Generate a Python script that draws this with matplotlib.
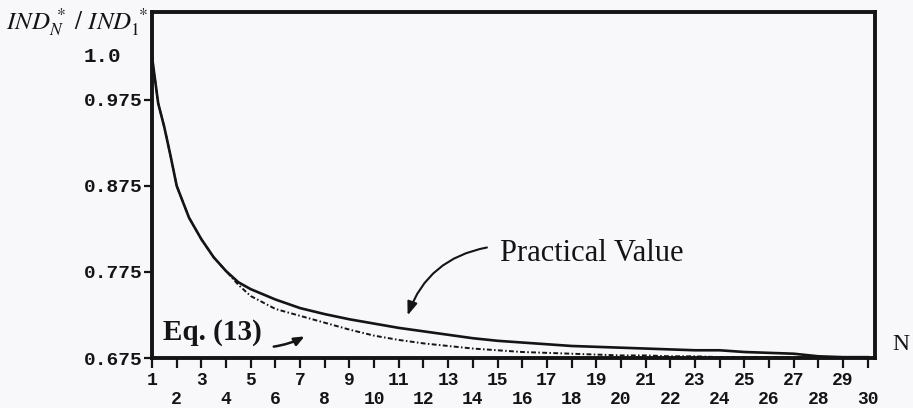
import numpy as np
import matplotlib
matplotlib.use("Agg")
import matplotlib.pyplot as plt

# number of units N (finer steps where the curve drops fast)
n_values = [1, 1.25, 1.5, 1.75, 2, 2.5, 3, 3.5, 4, 4.5, 5, 6, 7, 8, 9, 10,
            11, 12, 13, 14, 15, 16, 17, 18, 19, 20,
            21, 22, 23, 24, 25, 26, 27, 28, 29, 30]

# IND*_N / IND*_1, measured
practical = [1.000, 0.971, 0.943, 0.910, 0.875, 0.838, 0.813, 0.792, 0.776, 0.763,
             0.755, 0.743, 0.733, 0.726, 0.720, 0.715,
             0.710, 0.706, 0.702, 0.698, 0.695, 0.693, 0.691, 0.689, 0.688, 0.687,
             0.686, 0.685, 0.684, 0.684, 0.682, 0.681, 0.680, 0.677, 0.676, 0.676]

# IND*_N / IND*_1 from Eq. (13)
eq13 = [1.000, 0.971, 0.943, 0.910, 0.875, 0.838, 0.813, 0.792, 0.776, 0.760,
        0.747, 0.732, 0.724, 0.716, 0.708, 0.701,
        0.696, 0.692, 0.689, 0.686, 0.684, 0.682, 0.681, 0.680, 0.679, 0.678,
        0.678, 0.677, 0.677, 0.676, 0.676, 0.676, 0.676, 0.676, 0.676, 0.676]

y_ticks = [0.675, 0.775, 0.875, 0.975]
y_tick_labels = ["0.675", "0.775", "0.875", "0.975"]
x_odd = list(range(1, 31, 2))
x_even = list(range(2, 31, 2))

ink = "#141414"
paper = "#f8f8fb"
mono = "Liberation Mono"
serif = "Liberation Serif"

plt.rcParams["mathtext.fontset"] = "stix"


# the axis is stretched above 0.975 so the top value reads clearly
def fwd(y):
    y = np.asarray(y, dtype=float)
    return np.where(y > 0.975, 0.975 + 2.0 * (y - 0.975), y)


def inv(t):
    t = np.asarray(t, dtype=float)
    return np.where(t > 0.975, 0.975 + (t - 0.975) / 2.0, t)


fig = plt.figure(figsize=(9.13, 4.08), dpi=100, facecolor=paper)
ax = fig.add_axes([0.1665, 0.1225, 0.7915, 0.848])
ax.set_facecolor(paper)

ax.plot(n_values, eq13, color=ink, lw=1.4, linestyle=(0, (2.5, 1.2, 0.8, 1.2)))
ax.plot(n_values, practical, color=ink, lw=1.9, solid_joinstyle="round")

ax.set_yscale("function", functions=(fwd, inv))
ax.set_xlim(1, 30.28)
ax.set_ylim(0.675, 1.026)

for s in ax.spines.values():
    s.set_linewidth(2.8)
    s.set_color(ink)

ax.set_yticks(y_ticks)
ax.set_yticklabels(y_tick_labels, fontfamily=mono, fontweight="bold", fontsize=14)
ax.yaxis.set_minor_locator(matplotlib.ticker.NullLocator())
ax.tick_params(axis="y", direction="out", length=6, width=1.6, pad=1, colors=ink)
ax.annotate("1.0", xy=(0, 1.0), xycoords=("axes fraction", "data"),
            xytext=(-22, 0), textcoords="offset points", ha="right", va="center",
            fontfamily=mono, fontweight="bold", fontsize=15, color=ink)

# odd N on the first row, even N on a second, lower row
ax.set_xticks(x_odd)
ax.set_xticklabels([str(n) for n in x_odd], fontfamily=mono, fontweight="bold", fontsize=13)
ax.set_xticks(x_even, minor=True)
ax.set_xticklabels([str(n) for n in x_even], minor=True, fontfamily=mono,
                   fontweight="bold", fontsize=13)
ax.tick_params(axis="x", which="major", direction="out", length=7, width=1.6, pad=3, colors=ink)
ax.tick_params(axis="x", which="minor", direction="out", length=7, width=1.6, pad=16.5, colors=ink)

fig.text(0.007, 1 - 22 / 408, r"$IND^{\,*}_{N}\ /\ IND^{\,*}_{1}$", fontsize=18,
         ha="left", va="center", color=ink)
fig.text(901 / 913, 1 - 345 / 408, "N", fontfamily=serif, fontsize=17,
         ha="center", va="center", color=ink)

ax.text(15.09, 0.796, "Practical Value", fontfamily=serif, fontsize=22,
        ha="left", va="center", color=ink)
ax.annotate("", xy=(11.32, 0.7215), xytext=(14.68, 0.804),
            arrowprops=dict(arrowstyle="-|>,head_length=0.8,head_width=0.3",
                            connectionstyle="arc3,rad=0.3", color=ink, lw=1.5))

ax.text(1.45, 0.705, "Eq. (13)", fontfamily=serif, fontweight="bold", fontsize=21,
        ha="left", va="center", color=ink)
ax.annotate("", xy=(7.28, 0.7017), xytext=(5.82, 0.6878),
            arrowprops=dict(arrowstyle="-|>,head_length=0.6,head_width=0.25",
                            connectionstyle="arc3,rad=0.1", color=ink, lw=1.8))

fig.savefig("out.png", dpi=100, facecolor=paper)
